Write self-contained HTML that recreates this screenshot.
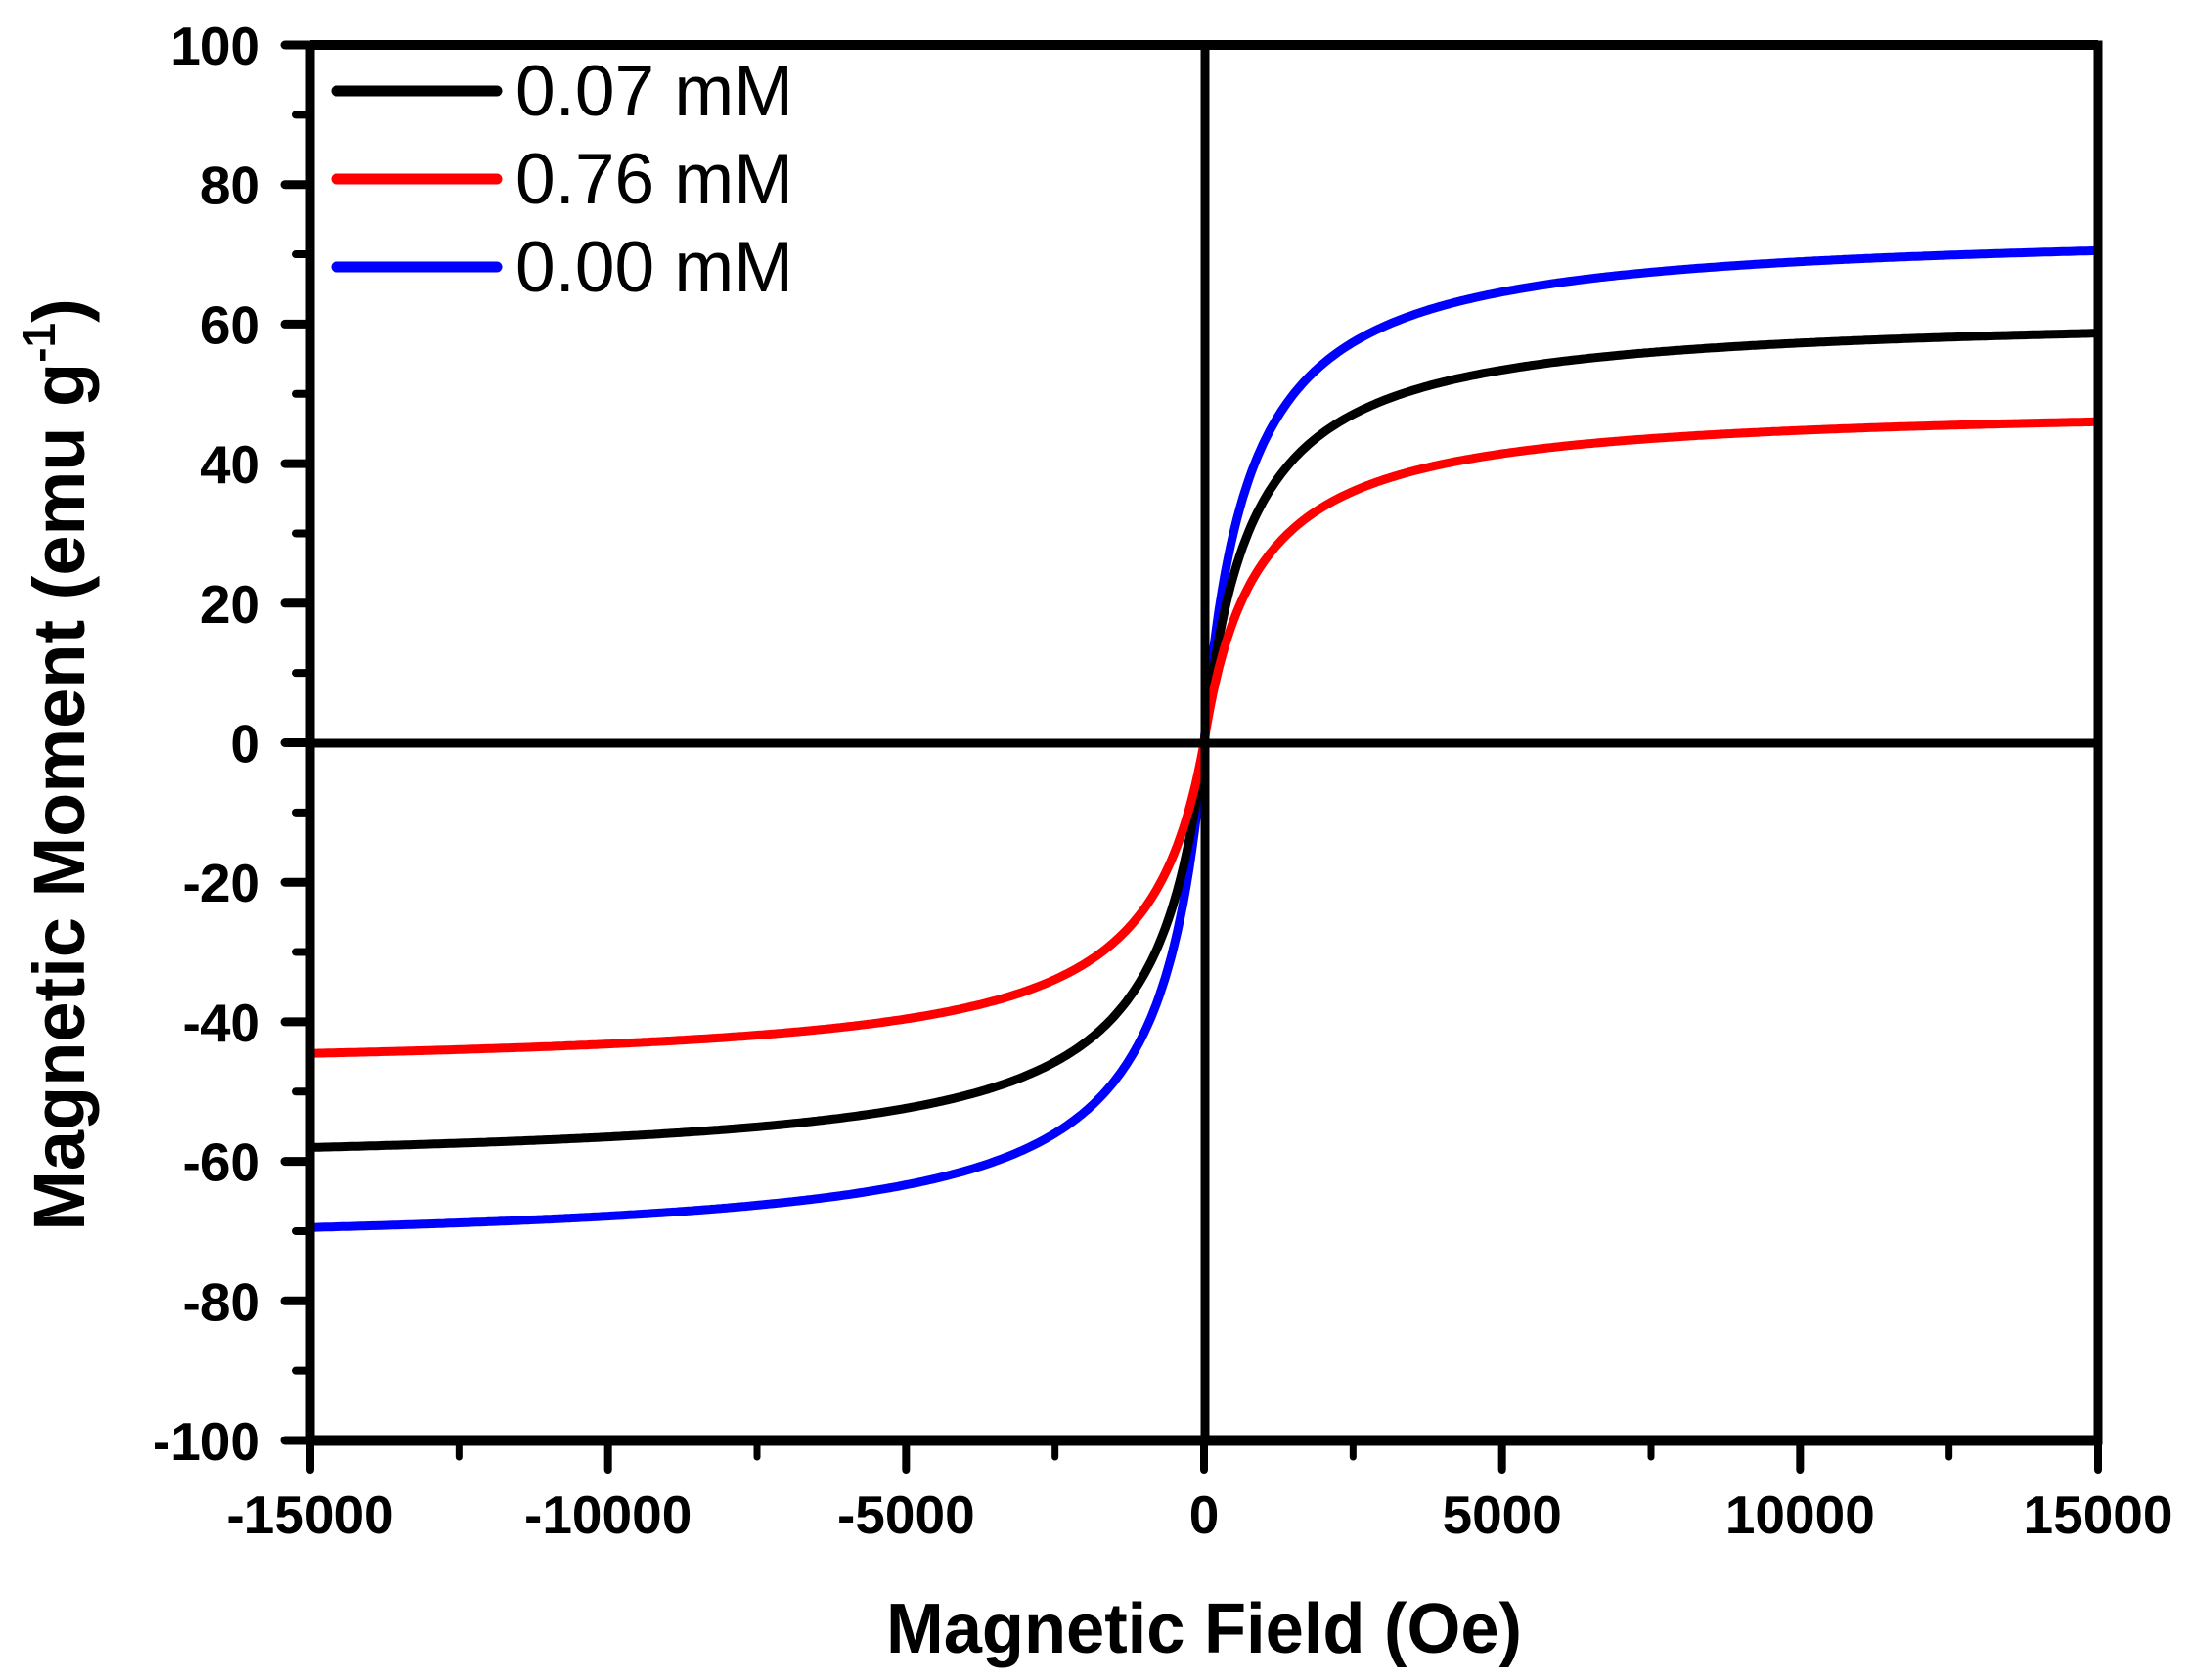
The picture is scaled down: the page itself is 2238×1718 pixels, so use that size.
<!DOCTYPE html>
<html><head><meta charset="utf-8"><style>
html,body{margin:0;padding:0;background:#fff}
svg{display:block}
text{font-family:"Liberation Sans",Arial,sans-serif}
</style></head><body>
<svg id="s" width="2238" height="1718" viewBox="0 0 2238 1718" xmlns="http://www.w3.org/2000/svg">
<rect width="2238" height="1718" fill="#fff"/>
<g id="ticks" stroke="#000" stroke-linecap="round"></g>
<g id="curves" fill="none" stroke-width="9" stroke-linejoin="round"></g>
<line x1="1232" y1="46" x2="1232" y2="1473" stroke="#000" stroke-width="9"/>
<line x1="317" y1="760" x2="2145" y2="760" stroke="#000" stroke-width="9"/>
<rect x="317" y="46" width="1828" height="1427" fill="none" stroke="#000" stroke-width="9"/>
<line x1="317" y1="1473" x2="2145" y2="1473" stroke="#000" stroke-width="11"/>
<line x1="317" y1="46" x2="2145" y2="46" stroke="#000" stroke-width="10"/>
<g id="lbl" font-weight="bold" font-size="55" fill="#000"></g>
<g stroke-width="11" stroke-linecap="round">
<line x1="344" y1="93" x2="508" y2="93" stroke="#000"/>
<line x1="344" y1="183" x2="508" y2="183" stroke="#f00"/>
<line x1="344" y1="273" x2="508" y2="273" stroke="#00f"/>
</g>
<g font-size="73" fill="#000">
<text x="527" y="118" textLength="284" lengthAdjust="spacingAndGlyphs">0.07 mM</text>
<text x="527" y="208" textLength="284" lengthAdjust="spacingAndGlyphs">0.76 mM</text>
<text x="527" y="298" textLength="284" lengthAdjust="spacingAndGlyphs">0.00 mM</text>
</g>
<text x="1231" y="1690" font-size="72" font-weight="bold" text-anchor="middle" textLength="650" lengthAdjust="spacingAndGlyphs">Magnetic Field (Oe)</text>
<text transform="translate(86,782) rotate(-90)" font-size="74" font-weight="bold" text-anchor="middle">Magnetic Moment (emu g<tspan dy="-30" font-size="46">-1</tspan><tspan dy="30">)</tspan></text>
</svg>
<script>
var NS="http://www.w3.org/2000/svg";
function X(v){return 317+(v+15000)/30000*1828;}
function Y(m){return 46+(100-m)/200*1427;}
var t=document.getElementById('ticks'),l=document.getElementById('lbl');
function ln(x1,y1,x2,y2,w){var e=document.createElementNS(NS,'line');e.setAttribute('x1',x1);e.setAttribute('y1',y1);e.setAttribute('x2',x2);e.setAttribute('y2',y2);e.setAttribute('stroke-width',w);t.appendChild(e);}
function tx(x,y,s,a){var e=document.createElementNS(NS,'text');e.setAttribute('x',x);e.setAttribute('y',y);e.setAttribute('text-anchor',a);e.textContent=s;l.appendChild(e);}
for(var m=-100;m<=100;m+=10){var y=Y(m);if(m%20==0){ln(291,y,317,y,9);tx(266,y+20,String(m),'end');}else ln(303,y,317,y,8);}
for(var v=-15000;v<=15000;v+=2500){var x=X(v);if(v%5000==0){ln(x,1473,x,1503,8);tx(x,1568,String(v),'middle');}else ln(x,1473,x,1490,7);}
var c=document.getElementById('curves');
function curve(col,Mp,ap,Mn,an){var d='';for(var i=0;i<=600;i++){var v=-15000+i*50;var M;
 if(v>=0)M=Mp*v/(v+ap);else M=-Mn*(-v)/(-v+an);
 d+=(i?'L':'M')+X(v).toFixed(1)+' '+Y(M).toFixed(1);}
 var p=document.createElementNS(NS,'path');p.setAttribute('d',d);p.setAttribute('stroke',col);c.appendChild(p);}
curve('#00f',73.9,720,73.0,760);
curve('#000',61.75,780,61.3,850);
curve('#f00',48.7,880,47.5,1000);
</script>
</body></html>
